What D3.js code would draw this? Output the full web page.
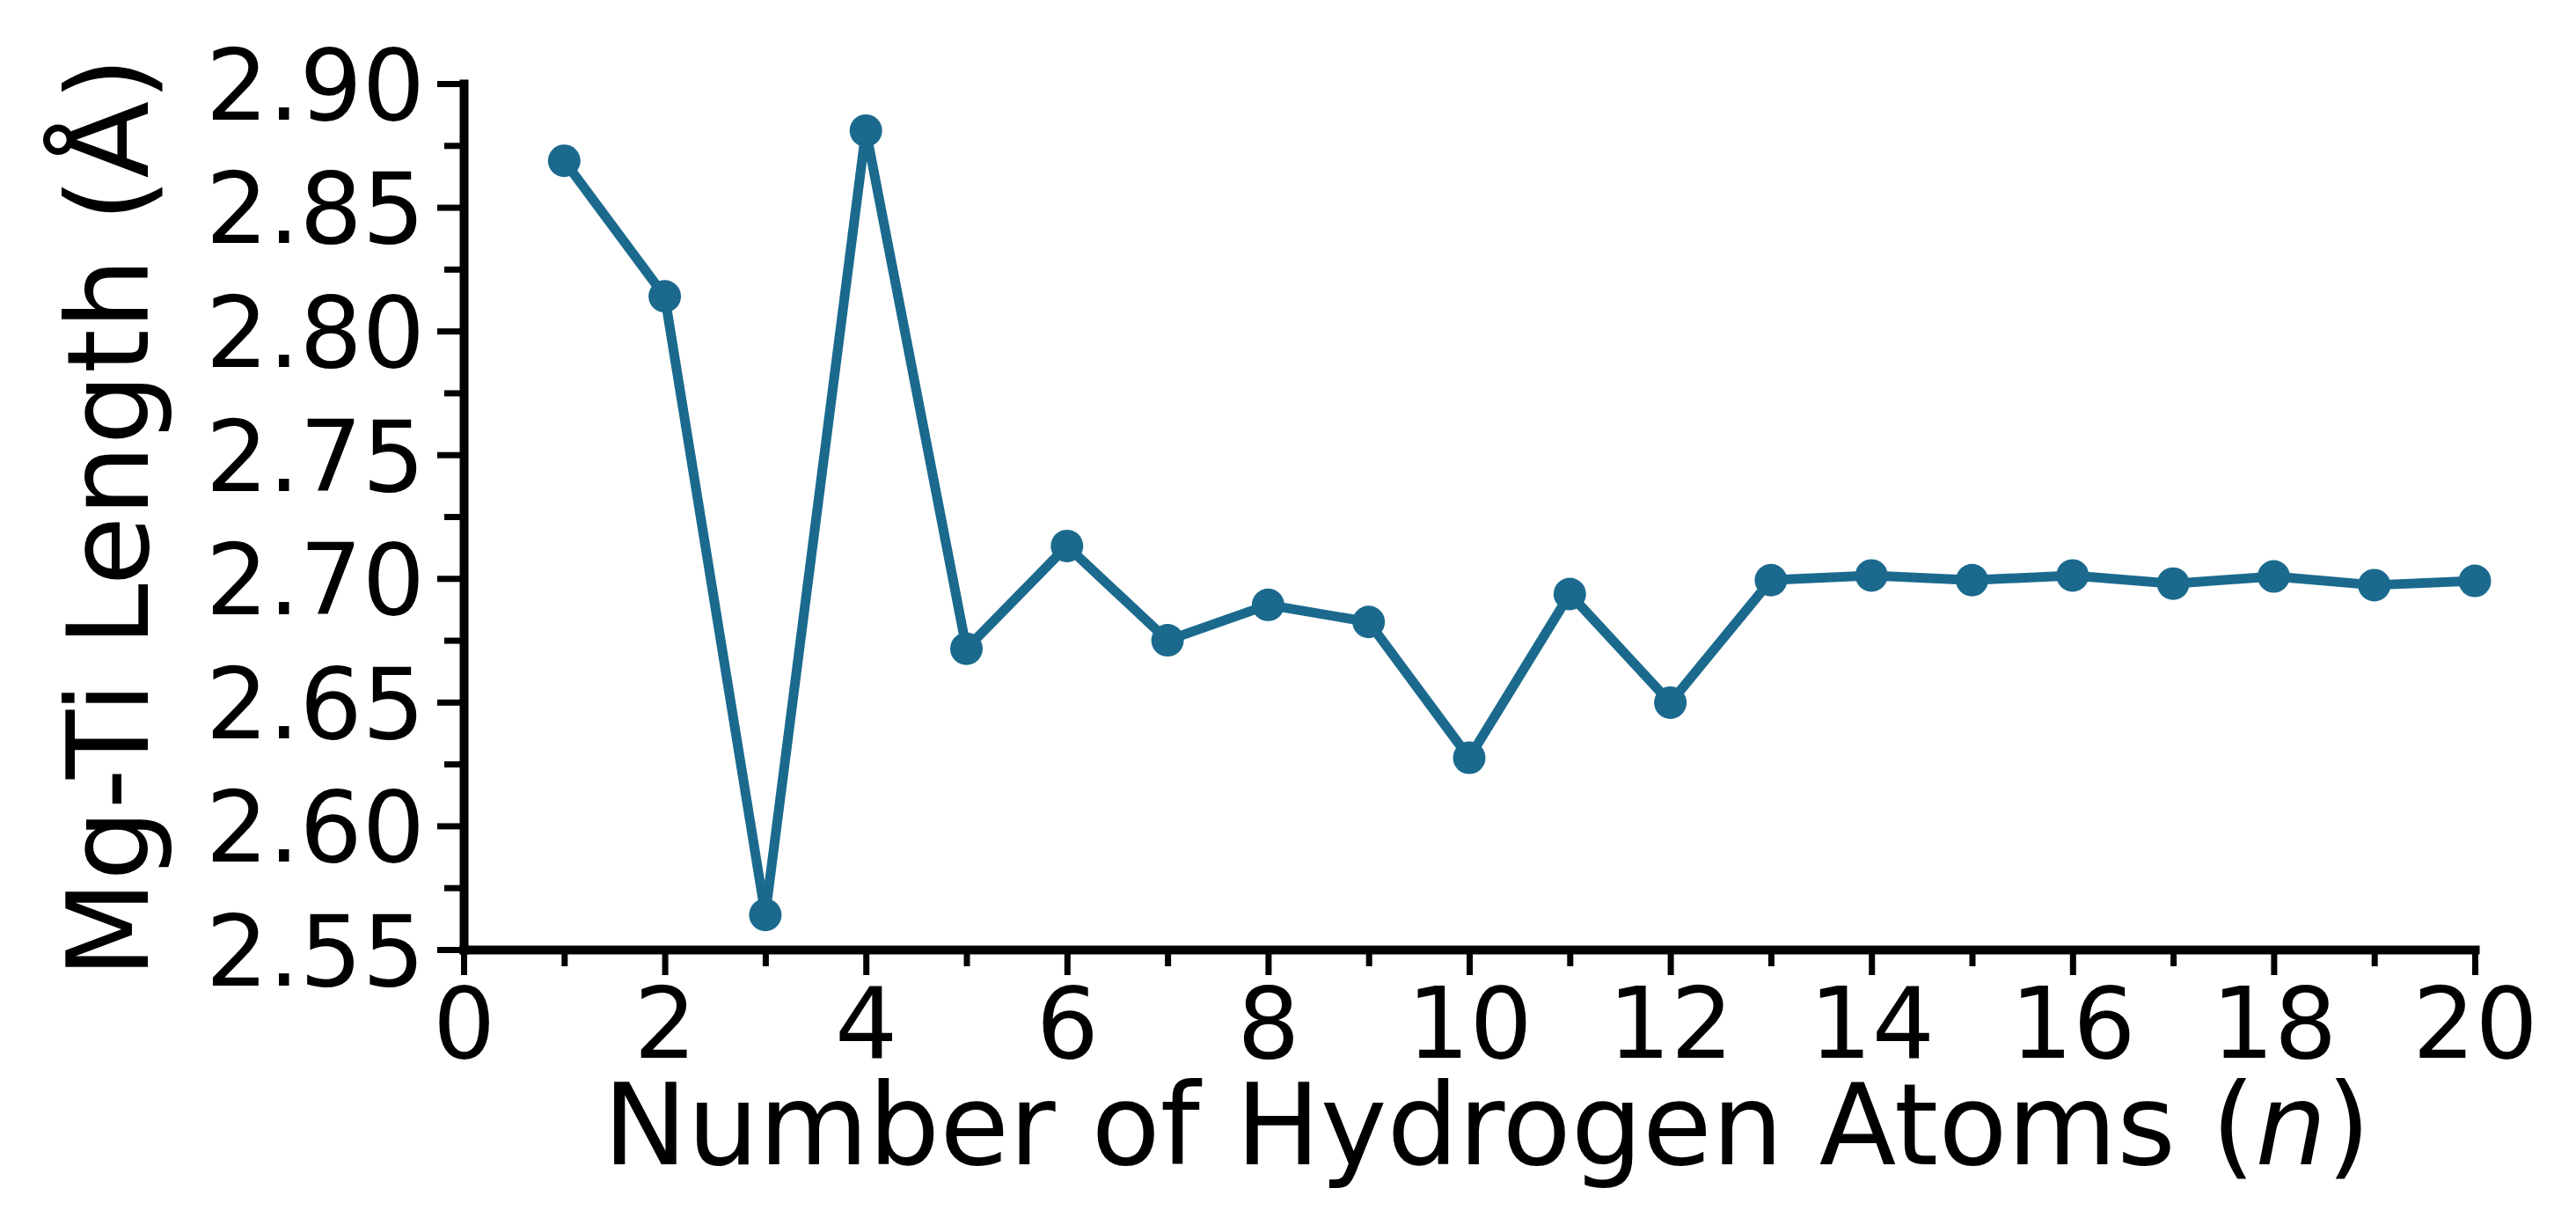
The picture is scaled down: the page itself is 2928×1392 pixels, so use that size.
<!DOCTYPE html>
<html>
<head>
<meta charset="utf-8">
<script src="https://cdn.jsdelivr.net/npm/d3@7"></script>
<style>
  html, body { margin: 0; padding: 0; background: #ffffff; }
  svg { display: block; }
  .axis text { font-family: "DejaVu Sans", Verdana, sans-serif; fill: #000; }
</style>
</head>
<body>
<svg id="chart" width="2928" height="1392"></svg>
<script>
// ---- data ----
const hydrogenAtoms = [1, 2, 3, 4, 5, 6, 7, 8, 9, 10, 11, 12, 13, 14, 15, 16, 17, 18, 19, 20];
const mgTiLength = [2.8688, 2.8140, 2.5640, 2.8810, 2.6716, 2.7131, 2.6750, 2.6893, 2.6824, 2.6275,
                    2.6937, 2.6498, 2.6993, 2.7012, 2.6993, 2.7012, 2.6979, 2.7008, 2.6973, 2.6990];
const xMajorTicks = [0, 2, 4, 6, 8, 10, 12, 14, 16, 18, 20];
const xMinorTicks = [1, 3, 5, 7, 9, 11, 13, 15, 17, 19];
const yMajorTicks = [2.55, 2.60, 2.65, 2.70, 2.75, 2.80, 2.85, 2.90];
const yMinorTicks = [2.575, 2.625, 2.675, 2.725, 2.775, 2.825, 2.875];
const xTitle = "Number of Hydrogen Atoms (";
const xTitleItalic = "n";
const yTitle = "Mg-Ti Length (Å)";

(function () {
// ---- layout ----
const svg = d3.select("#chart");
const pLeft = 527, pRight = 2813, pTop = 95, pBottom = 1079;
const color = "#1b6a8e";

const x = d3.scaleLinear().domain([0, 20]).range([pLeft, pRight]);
const y = d3.scaleLinear().domain([2.55, 2.90]).range([pBottom, pTop]);

// minor ticks
svg.append("g").attr("class", "axis")
  .attr("transform", `translate(0,${pBottom})`)
  .call(d3.axisBottom(x).tickValues(xMinorTicks).tickSize(19).tickSizeOuter(0).tickFormat(""))
  .call(g => g.select(".domain").remove())
  .call(g => g.selectAll(".tick line").attr("stroke", "#000").attr("stroke-width", 7));
svg.append("g").attr("class", "axis")
  .attr("transform", `translate(${pLeft},0)`)
  .call(d3.axisLeft(y).tickValues(yMinorTicks).tickSize(22).tickSizeOuter(0).tickFormat(""))
  .call(g => g.select(".domain").remove())
  .call(g => g.selectAll(".tick line").attr("stroke", "#000").attr("stroke-width", 7));

// major axes
const xAxis = svg.append("g").attr("class", "axis")
  .attr("transform", `translate(0,${pBottom})`)
  .call(d3.axisBottom(x).tickValues(xMajorTicks).tickSize(29).tickSizeOuter(0).tickPadding(14).tickFormat(d3.format("d")));
xAxis.select(".domain").attr("stroke", "#000").attr("stroke-width", 10).attr("stroke-linecap", "square");
xAxis.selectAll(".tick line").attr("stroke", "#000").attr("stroke-width", 7);
xAxis.selectAll(".tick text").attr("font-size", 112);

const yAxis = svg.append("g").attr("class", "axis")
  .attr("transform", `translate(${pLeft},0)`)
  .call(d3.axisLeft(y).tickValues(yMajorTicks).tickSize(30).tickSizeOuter(0).tickPadding(14).tickFormat(d3.format(".2f")));
yAxis.select(".domain").attr("stroke", "#000").attr("stroke-width", 10).attr("stroke-linecap", "square");
yAxis.selectAll(".tick line").attr("stroke", "#000").attr("stroke-width", 7);
yAxis.selectAll(".tick text").attr("font-size", 112).attr("dy", "0.36em");

// line + markers
const pts = hydrogenAtoms.map((n, i) => ({ n, v: mgTiLength[i] }));
svg.append("path")
  .datum(pts)
  .attr("fill", "none")
  .attr("stroke", color)
  .attr("stroke-width", 11)
  .attr("stroke-linejoin", "round")
  .attr("d", d3.line().x(d => x(d.n)).y(d => y(d.v)));
svg.append("g").selectAll("circle")
  .data(pts).join("circle")
  .attr("cx", d => x(d.n))
  .attr("cy", d => y(d.v))
  .attr("r", 18.5)
  .attr("fill", color);

// titles
const xt = svg.append("text")
  .attr("x", 1690).attr("y", 1323)
  .attr("text-anchor", "middle")
  .attr("font-family", "'DejaVu Sans', Verdana, sans-serif")
  .attr("font-size", 128)
  .attr("fill", "#000");
xt.append("tspan").text(xTitle);
xt.append("tspan").attr("font-style", "italic").text(xTitleItalic);
xt.append("tspan").text(")");

svg.append("text")
  .attr("transform", "translate(168,588) rotate(-90)")
  .attr("text-anchor", "middle")
  .attr("font-family", "'DejaVu Sans', Verdana, sans-serif")
  .attr("font-size", 128)
  .attr("fill", "#000")
  .text(yTitle);
})();
</script>
</body>
</html>
